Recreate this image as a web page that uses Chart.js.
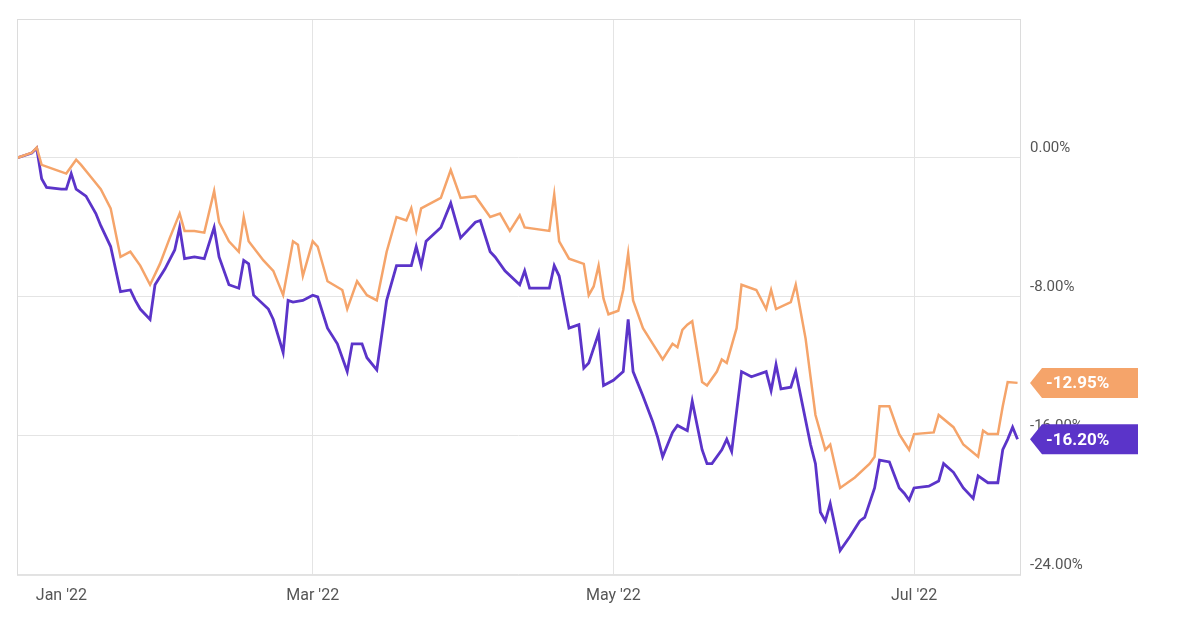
<!DOCTYPE html>
<html><head><meta charset="utf-8">
<script src="https://cdn.jsdelivr.net/npm/chart.js@4"></script>
<style>html,body{margin:0;background:#fff}#wrap{width:1196px;height:628px}</style>
</head><body><div id="wrap"><canvas id="c" width="1196" height="628"></canvas></div>
<script>
// days since Jan 1 2022
const purpleDays = [-1,2,3,4,5,8,9,10,11,13,15,16,18,20,22,23,24,26,27,29,31,32,33,35,37,39,40,42,44,45,46,47,50,51,53,54,55,57,59,60,62,64,66,67,69,70,72,74,76,79,80,81,82,85,87,89,92,93,95,96,98,101,102,103,107,108,109,111,113,114,115,117,118,120,122,123,124,126,128,129,130,132,133,135,136,138,139,140,142,143,144,146,148,151,152,153,154,156,157,158,160,161,162,163,164,166,168,170,171,173,174,176,178,179,180,181,184,186,187,189,191,193,194,196,198,199,200,201,202];
const purpleValues = [0,0.28,0.56,-1.2,-1.7,-1.8,-1.8,-0.9,-1.8,-2.2,-3.2,-3.9,-5.1,-7.7,-7.6,-8.2,-8.7,-9.3,-7.3,-6.4,-5.3,-4.0,-5.8,-5.7,-5.8,-4.0,-5.7,-7.3,-7.5,-5.9,-6.1,-7.9,-8.7,-9.3,-11.2,-8.2,-8.3,-8.2,-7.9,-8.0,-9.8,-10.7,-12.3,-10.7,-10.7,-11.5,-12.2,-8.2,-6.2,-6.2,-5.1,-6.2,-4.8,-4.0,-2.6,-4.6,-3.7,-3.6,-5.4,-5.7,-6.5,-7.3,-6.5,-7.5,-7.5,-6.2,-6.8,-9.8,-9.6,-12.1,-11.8,-10.1,-13.1,-12.8,-12.3,-9.3,-12.3,-13.7,-15.2,-16.1,-17.2,-15.8,-15.4,-15.7,-14.0,-16.8,-17.6,-17.6,-16.8,-16.2,-16.9,-12.3,-12.6,-12.3,-13.4,-11.9,-13.3,-13.2,-12.3,-13.7,-16.5,-17.6,-20.4,-20.9,-19.9,-22.6,-21.8,-20.9,-20.7,-19.0,-17.4,-17.5,-19.0,-19.3,-19.7,-19.0,-18.9,-18.6,-17.6,-18.1,-19.0,-19.6,-18.3,-18.7,-18.7,-16.8,-16.2,-15.5,-16.2];
const orangeDays = [-1,2,3,4,7,9,11,12,14,16,18,20,22,24,26,28,30,32,33,35,37,39,40,42,44,45,46,49,51,53,55,56,57,59,60,62,65,66,68,70,72,74,76,78,79,80,81,85,87,89,92,95,97,99,101,102,107,108,109,111,114,115,116,117,118,119,121,122,123,124,126,128,130,132,133,134,135,136,138,139,141,142,143,145,146,149,151,152,153,156,157,159,160,161,163,164,166,169,172,173,174,176,178,180,181,185,186,189,191,194,195,196,198,199,200,202];
const orangeValues = [0,0.3,0.6,-0.4,-0.7,-0.9,-0.1,-0.4,-1.1,-1.8,-2.9,-5.7,-5.4,-6.2,-7.3,-6.1,-4.6,-3.2,-4.2,-4.2,-4.3,-1.9,-3.7,-4.8,-5.4,-3.4,-4.8,-5.9,-6.5,-7.9,-4.8,-5.0,-6.8,-4.8,-5.1,-7.1,-7.6,-8.7,-7.1,-7.9,-8.2,-5.4,-3.4,-3.6,-2.9,-4.2,-2.9,-2.3,-0.7,-2.3,-2.2,-3.4,-3.2,-4.2,-3.3,-4.0,-4.2,-2.1,-4.8,-5.8,-6.1,-7.9,-7.4,-6.2,-8.1,-9.0,-8.8,-7.6,-5.5,-8.2,-9.8,-10.7,-11.6,-10.7,-10.9,-9.9,-9.6,-9.4,-12.9,-13.1,-12.3,-11.6,-11.8,-9.8,-7.3,-7.6,-8.7,-7.6,-8.7,-8.3,-7.3,-10.4,-12.6,-14.8,-16.8,-16.5,-19.0,-18.4,-17.6,-17.2,-14.3,-14.3,-15.9,-16.8,-15.9,-15.8,-14.8,-15.5,-16.5,-17.2,-15.7,-15.9,-15.9,-14.3,-12.9,-12.95];
const xTickDays = [8,59,120,181];
const xTickLabels = ["Jan '22","Mar '22","May '22","Jul '22"];
const yTicks = [8,0,-8,-16,-24];
const endLabels = ["-12.95%","-16.20%"];

const ORANGE = '#f5a46a', PURPLE = '#5b34c9';
const toPts = (d,v)=>d.map((x,i)=>({x:x,y:v[i]}));

const tagPlugin = {
  id:'tags',
  afterDraw(chart){
    const ctx = chart.ctx, ys = chart.scales.y, area = chart.chartArea;
    const items = [[orangeValues,ORANGE,endLabels[0]],[purpleValues,PURPLE,endLabels[1]]];
    ctx.save();
    items.forEach(([vals,col,txt])=>{
      const y = ys.getPixelForValue(vals[vals.length-1]);
      const x0 = area.right+10, x1 = 1138, h = 30;
      ctx.fillStyle = col;
      ctx.beginPath();
      ctx.moveTo(x0, y);
      ctx.lineTo(x0+12, y-h/2);
      ctx.lineTo(x1, y-h/2);
      ctx.lineTo(x1, y+h/2);
      ctx.lineTo(x0+12, y+h/2);
      ctx.closePath(); ctx.fill();
      ctx.fillStyle='#fff'; ctx.font='bold 17px Roboto'; ctx.textBaseline='middle'; ctx.textAlign='left';
      ctx.fillText(txt, x0+16, y+1);
    });
    ctx.strokeStyle='#dcdcdc'; ctx.lineWidth=1;
    ctx.strokeRect(area.left+0.5, area.top+0.5, area.right-area.left, area.bottom-area.top);
    ctx.restore();
  }
};

new Chart(document.getElementById('c'), {
  type:'line',
  data:{datasets:[
    {data:toPts(orangeDays,orangeValues),borderColor:ORANGE,borderWidth:2.5,pointRadius:0,tension:0},
    {data:toPts(purpleDays,purpleValues),borderColor:PURPLE,borderWidth:2.8,pointRadius:0,tension:0}
  ]},
  options:{
    responsive:false,animation:false,
    layout:{padding:{top:2,left:17,right:0,bottom:10}},
    plugins:{legend:{display:false},tooltip:{enabled:false}},
    scales:{
      x:{type:'linear',min:-1,max:202.5,
        afterBuildTicks(s){s.ticks = xTickDays.map(v=>({value:v}));},
        ticks:{autoSkip:false,maxRotation:0,color:'#555',font:{family:'Roboto',size:16},padding:12,
          callback:(v,i)=>xTickLabels[i]},
        grid:{color:(c)=>c.index===0?'rgba(0,0,0,0)':'#e4e4e4',drawTicks:false},
        border:{display:false}},
      y:{position:'right',min:-24,max:8,
        afterBuildTicks(s){s.ticks = yTicks.map(v=>({value:v}));},
        afterFit(s){s.width=176;},
        ticks:{color:'#555',font:{family:'Roboto',size:15},padding:10,labelOffset:-10,
          callback:(v)=>v===8?'':v.toFixed(2)+'%'},
        grid:{color:'#e4e4e4',drawTicks:false},
        border:{display:false}}
    }
  },
  plugins:[tagPlugin]
});
</script></body></html>
